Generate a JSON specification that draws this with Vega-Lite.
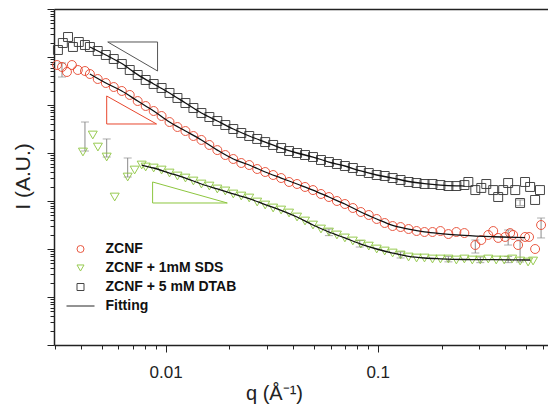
{
  "$schema": "https://vega.github.io/schema/vega-lite/v6.json",
  "width": 494,
  "height": 336,
  "autosize": {"type": "none"},
  "padding": {"left": 54, "top": 9, "right": 0, "bottom": 59},
  "background": "white",
  "config": {"view": {"stroke": null}, "font": "Liberation Sans"},
  "datasets": {
    "pts": [
      {"series": "ZCNF", "q": 0.00308, "I": 681}, {"series": "ZCNF", "q": 0.00325, "I": 619}, {"series": "ZCNF", "q": 0.00343, "I": 487}, {"series": "ZCNF", "q": 0.00362, "I": 681}, {"series": "ZCNF", "q": 0.00386, "I": 536}, {"series": "ZCNF", "q": 0.00417, "I": 511}, {"series": "ZCNF", "q": 0.0044, "I": 442}, {"series": "ZCNF", "q": 0.00479, "I": 348}, {"series": "ZCNF", "q": 0.00523, "I": 287}, {"series": "ZCNF", "q": 0.0057, "I": 237}, {"series": "ZCNF", "q": 0.00622, "I": 196}, {"series": "ZCNF", "q": 0.00678, "I": 162}, {"series": "ZCNF", "q": 0.00739, "I": 121}, {"series": "ZCNF", "q": 0.00806, "I": 95.3}, {"series": "ZCNF", "q": 0.00879, "I": 75}, {"series": "ZCNF", "q": 0.00958, "I": 59}, {"series": "ZCNF", "q": 0.01044, "I": 44.2}, {"series": "ZCNF", "q": 0.01138, "I": 34.8}, {"series": "ZCNF", "q": 0.01241, "I": 28.7}, {"series": "ZCNF", "q": 0.01353, "I": 22.6}, {"series": "ZCNF", "q": 0.01476, "I": 18.7}, {"series": "ZCNF", "q": 0.01609, "I": 14.7}, {"series": "ZCNF", "q": 0.01754, "I": 11.5}, {"series": "ZCNF", "q": 0.01913, "I": 9.08}, {"series": "ZCNF", "q": 0.02086, "I": 7.5}, {"series": "ZCNF", "q": 0.02275, "I": 6.19}, {"series": "ZCNF", "q": 0.0248, "I": 5.62}, {"series": "ZCNF", "q": 0.02704, "I": 4.64}, {"series": "ZCNF", "q": 0.02949, "I": 4.02}, {"series": "ZCNF", "q": 0.03215, "I": 3.48}, {"series": "ZCNF", "q": 0.03506, "I": 3.01}, {"series": "ZCNF", "q": 0.03822, "I": 2.49}, {"series": "ZCNF", "q": 0.04168, "I": 2.26}, {"series": "ZCNF", "q": 0.04544, "I": 1.96}, {"series": "ZCNF", "q": 0.04955, "I": 1.69}, {"series": "ZCNF", "q": 0.05403, "I": 1.4}, {"series": "ZCNF", "q": 0.05891, "I": 1.21}, {"series": "ZCNF", "q": 0.06423, "I": 1.0}, {"series": "ZCNF", "q": 0.07004, "I": 0.866}, {"series": "ZCNF", "q": 0.07637, "I": 0.715}, {"series": "ZCNF", "q": 0.08327, "I": 0.59}, {"series": "ZCNF", "q": 0.09079, "I": 0.511}, {"series": "ZCNF", "q": 0.09893, "I": 0.422}, {"series": "ZCNF", "q": 0.1079, "I": 0.348}, {"series": "ZCNF", "q": 0.1176, "I": 0.301}, {"series": "ZCNF", "q": 0.1282, "I": 0.287}, {"series": "ZCNF", "q": 0.1398, "I": 0.261}, {"series": "ZCNF", "q": 0.1525, "I": 0.237}, {"series": "ZCNF", "q": 0.1662, "I": 0.226}, {"series": "ZCNF", "q": 0.1813, "I": 0.226}, {"series": "ZCNF", "q": 0.1976, "I": 0.237}, {"series": "ZCNF", "q": 0.2154, "I": 0.205}, {"series": "ZCNF", "q": 0.2349, "I": 0.226}, {"series": "ZCNF", "q": 0.2562, "I": 0.215}, {"series": "ZCNF", "q": 0.2885, "I": 0.121}, {"series": "ZCNF", "q": 0.3078, "I": 0.154}, {"series": "ZCNF", "q": 0.332, "I": 0.196}, {"series": "ZCNF", "q": 0.3504, "I": 0.237}, {"series": "ZCNF", "q": 0.3698, "I": 0.17}, {"series": "ZCNF", "q": 0.399, "I": 0.178}, {"series": "ZCNF", "q": 0.421, "I": 0.215}, {"series": "ZCNF", "q": 0.435, "I": 0.196}, {"series": "ZCNF", "q": 0.459, "I": 0.121}, {"series": "ZCNF", "q": 0.495, "I": 0.178}, {"series": "ZCNF", "q": 0.517, "I": 0.178}, {"series": "ZCNF", "q": 0.552, "I": 0.1}, {"series": "ZCNF", "q": 0.589, "I": 0.316},
      {"series": "ZCNF + 1mM SDS", "q": 0.00408, "I": 10.5}, {"series": "ZCNF + 1mM SDS", "q": 0.00454, "I": 23.7}, {"series": "ZCNF + 1mM SDS", "q": 0.0048, "I": 13.3}, {"series": "ZCNF + 1mM SDS", "q": 0.00528, "I": 8.25}, {"series": "ZCNF + 1mM SDS", "q": 0.00576, "I": 1.21}, {"series": "ZCNF + 1mM SDS", "q": 0.00663, "I": 3.16}, {"series": "ZCNF + 1mM SDS", "q": 0.00715, "I": 4.42}, {"series": "ZCNF + 1mM SDS", "q": 0.00772, "I": 5.62}, {"series": "ZCNF + 1mM SDS", "q": 0.00806, "I": 5.11}, {"series": "ZCNF + 1mM SDS", "q": 0.00879, "I": 4.87}, {"series": "ZCNF + 1mM SDS", "q": 0.00958, "I": 4.42}, {"series": "ZCNF + 1mM SDS", "q": 0.01044, "I": 3.83}, {"series": "ZCNF + 1mM SDS", "q": 0.01138, "I": 3.32}, {"series": "ZCNF + 1mM SDS", "q": 0.01241, "I": 3.01}, {"series": "ZCNF + 1mM SDS", "q": 0.01353, "I": 2.61}, {"series": "ZCNF + 1mM SDS", "q": 0.01476, "I": 2.26}, {"series": "ZCNF + 1mM SDS", "q": 0.01609, "I": 2.05}, {"series": "ZCNF + 1mM SDS", "q": 0.01754, "I": 1.78}, {"series": "ZCNF + 1mM SDS", "q": 0.01913, "I": 1.62}, {"series": "ZCNF + 1mM SDS", "q": 0.02086, "I": 1.4}, {"series": "ZCNF + 1mM SDS", "q": 0.02275, "I": 1.27}, {"series": "ZCNF + 1mM SDS", "q": 0.0248, "I": 1.155}, {"series": "ZCNF + 1mM SDS", "q": 0.02704, "I": 0.953}, {"series": "ZCNF + 1mM SDS", "q": 0.02949, "I": 0.825}, {"series": "ZCNF + 1mM SDS", "q": 0.03215, "I": 0.715}, {"series": "ZCNF + 1mM SDS", "q": 0.03506, "I": 0.649}, {"series": "ZCNF + 1mM SDS", "q": 0.03822, "I": 0.562}, {"series": "ZCNF + 1mM SDS", "q": 0.04168, "I": 0.464}, {"series": "ZCNF + 1mM SDS", "q": 0.04544, "I": 0.383}, {"series": "ZCNF + 1mM SDS", "q": 0.04955, "I": 0.316}, {"series": "ZCNF + 1mM SDS", "q": 0.05403, "I": 0.261}, {"series": "ZCNF + 1mM SDS", "q": 0.05891, "I": 0.226}, {"series": "ZCNF + 1mM SDS", "q": 0.06423, "I": 0.196}, {"series": "ZCNF + 1mM SDS", "q": 0.07004, "I": 0.17}, {"series": "ZCNF + 1mM SDS", "q": 0.07637, "I": 0.147}, {"series": "ZCNF + 1mM SDS", "q": 0.08327, "I": 0.127}, {"series": "ZCNF + 1mM SDS", "q": 0.09079, "I": 0.115}, {"series": "ZCNF + 1mM SDS", "q": 0.09893, "I": 0.1}, {"series": "ZCNF + 1mM SDS", "q": 0.1079, "I": 0.0908}, {"series": "ZCNF + 1mM SDS", "q": 0.1176, "I": 0.0825}, {"series": "ZCNF + 1mM SDS", "q": 0.1282, "I": 0.075}, {"series": "ZCNF + 1mM SDS", "q": 0.1398, "I": 0.0681}, {"series": "ZCNF + 1mM SDS", "q": 0.1525, "I": 0.0649}, {"series": "ZCNF + 1mM SDS", "q": 0.1662, "I": 0.0649}, {"series": "ZCNF + 1mM SDS", "q": 0.1813, "I": 0.0619}, {"series": "ZCNF + 1mM SDS", "q": 0.1976, "I": 0.0619}, {"series": "ZCNF + 1mM SDS", "q": 0.2154, "I": 0.0619}, {"series": "ZCNF + 1mM SDS", "q": 0.2349, "I": 0.059}, {"series": "ZCNF + 1mM SDS", "q": 0.2562, "I": 0.0619}, {"series": "ZCNF + 1mM SDS", "q": 0.2793, "I": 0.059}, {"series": "ZCNF + 1mM SDS", "q": 0.3045, "I": 0.059}, {"series": "ZCNF + 1mM SDS", "q": 0.3321, "I": 0.0619}, {"series": "ZCNF + 1mM SDS", "q": 0.3621, "I": 0.059}, {"series": "ZCNF + 1mM SDS", "q": 0.3948, "I": 0.059}, {"series": "ZCNF + 1mM SDS", "q": 0.4305, "I": 0.0619}, {"series": "ZCNF + 1mM SDS", "q": 0.4693, "I": 0.0562}, {"series": "ZCNF + 1mM SDS", "q": 0.5117, "I": 0.0536}, {"series": "ZCNF + 1mM SDS", "q": 0.54, "I": 0.0562},
      {"series": "ZCNF + 5 mM DTAB", "q": 0.00311, "I": 1399}, {"series": "ZCNF + 5 mM DTAB", "q": 0.00328, "I": 1957}, {"series": "ZCNF + 5 mM DTAB", "q": 0.00347, "I": 2610}, {"series": "ZCNF + 5 mM DTAB", "q": 0.00366, "I": 1616}, {"series": "ZCNF + 5 mM DTAB", "q": 0.0039, "I": 2054}, {"series": "ZCNF + 5 mM DTAB", "q": 0.00417, "I": 1778}, {"series": "ZCNF + 5 mM DTAB", "q": 0.0044, "I": 1616}, {"series": "ZCNF + 5 mM DTAB", "q": 0.00479, "I": 1334}, {"series": "ZCNF + 5 mM DTAB", "q": 0.00523, "I": 1101}, {"series": "ZCNF + 5 mM DTAB", "q": 0.0057, "I": 908}, {"series": "ZCNF + 5 mM DTAB", "q": 0.00622, "I": 715}, {"series": "ZCNF + 5 mM DTAB", "q": 0.00678, "I": 536}, {"series": "ZCNF + 5 mM DTAB", "q": 0.00739, "I": 422}, {"series": "ZCNF + 5 mM DTAB", "q": 0.00806, "I": 332}, {"series": "ZCNF + 5 mM DTAB", "q": 0.00879, "I": 274}, {"series": "ZCNF + 5 mM DTAB", "q": 0.00958, "I": 226}, {"series": "ZCNF + 5 mM DTAB", "q": 0.01044, "I": 178}, {"series": "ZCNF + 5 mM DTAB", "q": 0.01138, "I": 140}, {"series": "ZCNF + 5 mM DTAB", "q": 0.01241, "I": 110}, {"series": "ZCNF + 5 mM DTAB", "q": 0.01353, "I": 86.6}, {"series": "ZCNF + 5 mM DTAB", "q": 0.01476, "I": 68.1}, {"series": "ZCNF + 5 mM DTAB", "q": 0.01609, "I": 56.2}, {"series": "ZCNF + 5 mM DTAB", "q": 0.01754, "I": 46.4}, {"series": "ZCNF + 5 mM DTAB", "q": 0.01913, "I": 38.3}, {"series": "ZCNF + 5 mM DTAB", "q": 0.02086, "I": 31.6}, {"series": "ZCNF + 5 mM DTAB", "q": 0.02275, "I": 26.1}, {"series": "ZCNF + 5 mM DTAB", "q": 0.0248, "I": 22.6}, {"series": "ZCNF + 5 mM DTAB", "q": 0.02704, "I": 19.6}, {"series": "ZCNF + 5 mM DTAB", "q": 0.02949, "I": 16.9}, {"series": "ZCNF + 5 mM DTAB", "q": 0.03215, "I": 14.7}, {"series": "ZCNF + 5 mM DTAB", "q": 0.03506, "I": 12.7}, {"series": "ZCNF + 5 mM DTAB", "q": 0.03822, "I": 11.0}, {"series": "ZCNF + 5 mM DTAB", "q": 0.04168, "I": 10.0}, {"series": "ZCNF + 5 mM DTAB", "q": 0.04544, "I": 9.08}, {"series": "ZCNF + 5 mM DTAB", "q": 0.04955, "I": 8.25}, {"series": "ZCNF + 5 mM DTAB", "q": 0.05403, "I": 7.15}, {"series": "ZCNF + 5 mM DTAB", "q": 0.05891, "I": 6.49}, {"series": "ZCNF + 5 mM DTAB", "q": 0.06423, "I": 5.9}, {"series": "ZCNF + 5 mM DTAB", "q": 0.07004, "I": 5.36}, {"series": "ZCNF + 5 mM DTAB", "q": 0.07637, "I": 4.87}, {"series": "ZCNF + 5 mM DTAB", "q": 0.08327, "I": 4.22}, {"series": "ZCNF + 5 mM DTAB", "q": 0.09079, "I": 3.83}, {"series": "ZCNF + 5 mM DTAB", "q": 0.09893, "I": 3.48}, {"series": "ZCNF + 5 mM DTAB", "q": 0.1079, "I": 3.32}, {"series": "ZCNF + 5 mM DTAB", "q": 0.1176, "I": 3.01}, {"series": "ZCNF + 5 mM DTAB", "q": 0.1282, "I": 2.74}, {"series": "ZCNF + 5 mM DTAB", "q": 0.1398, "I": 2.49}, {"series": "ZCNF + 5 mM DTAB", "q": 0.1525, "I": 2.37}, {"series": "ZCNF + 5 mM DTAB", "q": 0.1662, "I": 2.26}, {"series": "ZCNF + 5 mM DTAB", "q": 0.1813, "I": 2.26}, {"series": "ZCNF + 5 mM DTAB", "q": 0.1976, "I": 2.15}, {"series": "ZCNF + 5 mM DTAB", "q": 0.2154, "I": 2.05}, {"series": "ZCNF + 5 mM DTAB", "q": 0.2349, "I": 2.05}, {"series": "ZCNF + 5 mM DTAB", "q": 0.2562, "I": 2.15}, {"series": "ZCNF + 5 mM DTAB", "q": 0.2675, "I": 2.49}, {"series": "ZCNF + 5 mM DTAB", "q": 0.2885, "I": 1.69}, {"series": "ZCNF + 5 mM DTAB", "q": 0.3078, "I": 1.87}, {"series": "ZCNF + 5 mM DTAB", "q": 0.325, "I": 2.26}, {"series": "ZCNF + 5 mM DTAB", "q": 0.3504, "I": 1.69}, {"series": "ZCNF + 5 mM DTAB", "q": 0.3698, "I": 1.21}, {"series": "ZCNF + 5 mM DTAB", "q": 0.3904, "I": 1.69}, {"series": "ZCNF + 5 mM DTAB", "q": 0.412, "I": 2.37}, {"series": "ZCNF + 5 mM DTAB", "q": 0.445, "I": 1.69}, {"series": "ZCNF + 5 mM DTAB", "q": 0.469, "I": 0.909}, {"series": "ZCNF + 5 mM DTAB", "q": 0.495, "I": 2.49}, {"series": "ZCNF + 5 mM DTAB", "q": 0.523, "I": 1.96}, {"series": "ZCNF + 5 mM DTAB", "q": 0.552, "I": 1.05}, {"series": "ZCNF + 5 mM DTAB", "q": 0.582, "I": 1.69}
    ],
    "fits": [
      {"series": "Fitting", "group": "D", "q": 0.0044, "I": 1616}, {"series": "Fitting", "group": "D", "q": 0.00523, "I": 1101}, {"series": "Fitting", "group": "D", "q": 0.00622, "I": 730}, {"series": "Fitting", "group": "D", "q": 0.00739, "I": 430}, {"series": "Fitting", "group": "D", "q": 0.00879, "I": 274}, {"series": "Fitting", "group": "D", "q": 0.01044, "I": 178}, {"series": "Fitting", "group": "D", "q": 0.01241, "I": 110}, {"series": "Fitting", "group": "D", "q": 0.01476, "I": 68.1}, {"series": "Fitting", "group": "D", "q": 0.01754, "I": 46.4}, {"series": "Fitting", "group": "D", "q": 0.02086, "I": 31.6}, {"series": "Fitting", "group": "D", "q": 0.0248, "I": 22.6}, {"series": "Fitting", "group": "D", "q": 0.02949, "I": 16.9}, {"series": "Fitting", "group": "D", "q": 0.03506, "I": 12.7}, {"series": "Fitting", "group": "D", "q": 0.04168, "I": 10.0}, {"series": "Fitting", "group": "D", "q": 0.04955, "I": 8.25}, {"series": "Fitting", "group": "D", "q": 0.05891, "I": 6.49}, {"series": "Fitting", "group": "D", "q": 0.07004, "I": 5.36}, {"series": "Fitting", "group": "D", "q": 0.08327, "I": 4.22}, {"series": "Fitting", "group": "D", "q": 0.09893, "I": 3.48}, {"series": "Fitting", "group": "D", "q": 0.1176, "I": 3.01}, {"series": "Fitting", "group": "D", "q": 0.1398, "I": 2.55}, {"series": "Fitting", "group": "D", "q": 0.1662, "I": 2.3}, {"series": "Fitting", "group": "D", "q": 0.1976, "I": 2.15}, {"series": "Fitting", "group": "D", "q": 0.2349, "I": 2.07}, {"series": "Fitting", "group": "D", "q": 0.2562, "I": 2.05},
      {"series": "Fitting", "group": "Z", "q": 0.0044, "I": 442}, {"series": "Fitting", "group": "Z", "q": 0.00523, "I": 287}, {"series": "Fitting", "group": "Z", "q": 0.00622, "I": 196}, {"series": "Fitting", "group": "Z", "q": 0.00739, "I": 121}, {"series": "Fitting", "group": "Z", "q": 0.00879, "I": 75}, {"series": "Fitting", "group": "Z", "q": 0.01044, "I": 44.2}, {"series": "Fitting", "group": "Z", "q": 0.01241, "I": 28.7}, {"series": "Fitting", "group": "Z", "q": 0.01476, "I": 18.7}, {"series": "Fitting", "group": "Z", "q": 0.01754, "I": 11.5}, {"series": "Fitting", "group": "Z", "q": 0.02086, "I": 7.5}, {"series": "Fitting", "group": "Z", "q": 0.0248, "I": 5.62}, {"series": "Fitting", "group": "Z", "q": 0.02949, "I": 4.02}, {"series": "Fitting", "group": "Z", "q": 0.03506, "I": 3.01}, {"series": "Fitting", "group": "Z", "q": 0.04168, "I": 2.26}, {"series": "Fitting", "group": "Z", "q": 0.04955, "I": 1.69}, {"series": "Fitting", "group": "Z", "q": 0.05891, "I": 1.21}, {"series": "Fitting", "group": "Z", "q": 0.07004, "I": 0.866}, {"series": "Fitting", "group": "Z", "q": 0.08327, "I": 0.59}, {"series": "Fitting", "group": "Z", "q": 0.09893, "I": 0.422}, {"series": "Fitting", "group": "Z", "q": 0.1176, "I": 0.31}, {"series": "Fitting", "group": "Z", "q": 0.1398, "I": 0.26}, {"series": "Fitting", "group": "Z", "q": 0.1662, "I": 0.228}, {"series": "Fitting", "group": "Z", "q": 0.1976, "I": 0.21}, {"series": "Fitting", "group": "Z", "q": 0.2562, "I": 0.192}, {"series": "Fitting", "group": "Z", "q": 0.35, "I": 0.18}, {"series": "Fitting", "group": "Z", "q": 0.495, "I": 0.172},
      {"series": "Fitting", "group": "S", "q": 0.00772, "I": 5.62}, {"series": "Fitting", "group": "S", "q": 0.00879, "I": 4.87}, {"series": "Fitting", "group": "S", "q": 0.01044, "I": 3.83}, {"series": "Fitting", "group": "S", "q": 0.01241, "I": 3.01}, {"series": "Fitting", "group": "S", "q": 0.01476, "I": 2.26}, {"series": "Fitting", "group": "S", "q": 0.01754, "I": 1.78}, {"series": "Fitting", "group": "S", "q": 0.02086, "I": 1.4}, {"series": "Fitting", "group": "S", "q": 0.0248, "I": 1.12}, {"series": "Fitting", "group": "S", "q": 0.02949, "I": 0.84}, {"series": "Fitting", "group": "S", "q": 0.03506, "I": 0.64}, {"series": "Fitting", "group": "S", "q": 0.04168, "I": 0.464}, {"series": "Fitting", "group": "S", "q": 0.04955, "I": 0.316}, {"series": "Fitting", "group": "S", "q": 0.05891, "I": 0.226}, {"series": "Fitting", "group": "S", "q": 0.07004, "I": 0.17}, {"series": "Fitting", "group": "S", "q": 0.08327, "I": 0.127}, {"series": "Fitting", "group": "S", "q": 0.09893, "I": 0.1}, {"series": "Fitting", "group": "S", "q": 0.1176, "I": 0.0825}, {"series": "Fitting", "group": "S", "q": 0.1398, "I": 0.0705}, {"series": "Fitting", "group": "S", "q": 0.1662, "I": 0.065}, {"series": "Fitting", "group": "S", "q": 0.1976, "I": 0.0625}, {"series": "Fitting", "group": "S", "q": 0.2562, "I": 0.0605}, {"series": "Fitting", "group": "S", "q": 0.35, "I": 0.06}, {"series": "Fitting", "group": "S", "q": 0.523, "I": 0.059}
    ],
    "tri": [
      {"tri": "B", "k": 1, "q": 0.00534, "I": 2054}, {"tri": "B", "k": 2, "q": 0.00917, "I": 2054}, {"tri": "B", "k": 3, "q": 0.00917, "I": 511}, {"tri": "B", "k": 4, "q": 0.00534, "I": 2054},
      {"tri": "R", "k": 1, "q": 0.00528, "I": 154}, {"tri": "R", "k": 2, "q": 0.00528, "I": 40.2}, {"tri": "R", "k": 3, "q": 0.00907, "I": 40.2}, {"tri": "R", "k": 4, "q": 0.00528, "I": 154},
      {"tri": "G", "k": 1, "q": 0.00869, "I": 2.49}, {"tri": "G", "k": 2, "q": 0.00869, "I": 0.909}, {"tri": "G", "k": 3, "q": 0.01955, "I": 0.909}, {"tri": "G", "k": 4, "q": 0.00869, "I": 2.49}
    ],
    "err": [
      {"q": 0.00417, "lo": 11.0, "hi": 44.2}, {"q": 0.00528, "lo": 8.25, "hi": 19.6}, {"q": 0.00663, "lo": 3.16, "hi": 7.87},
      {"q": 0.00325, "lo": 383, "hi": 750}, {"q": 0.589, "lo": 0.17, "hi": 0.442}, {"q": 0.412, "lo": 0.121, "hi": 0.249}, {"q": 0.469, "lo": 0.0536, "hi": 0.154}, {"q": 0.2885, "lo": 0.0825, "hi": 0.154},
      {"q": 0.0589, "lo": 0.19, "hi": 0.26}, {"q": 0.0823, "lo": 0.11, "hi": 0.15}, {"q": 0.1282, "lo": 0.065, "hi": 0.087}, {"q": 0.2154, "lo": 0.054, "hi": 0.07}, {"q": 0.3045, "lo": 0.052, "hi": 0.068}, {"q": 0.412, "lo": 0.052, "hi": 0.07}, {"q": 0.469, "lo": 0.8, "hi": 1.05}
    ]
  },
  "layer": [
    {
      "data": {"name": "err"},
      "mark": {"type": "errorbar", "color": "#8a8a8a", "thickness": 1, "ticks": {"color": "#8a8a8a", "size": 8}},
      "encoding": {
        "x": {"field": "q", "type": "quantitative", "scale": {"type": "log", "domain": [0.00298, 0.635]}, "axis": null},
        "y": {"field": "lo", "type": "quantitative", "title": "I (A.U.)", "scale": {"type": "log", "domain": [0.001, 10000]}},
        "y2": {"field": "hi"}
      }
    },
    {
      "data": {"name": "tri"},
      "transform": [{"filter": "datum.tri == 'B'"}],
      "mark": {"type": "line", "color": "#555555", "strokeWidth": 1},
      "encoding": {
        "x": {"field": "q", "type": "quantitative", "scale": {"type": "log", "domain": [0.00298, 0.635]}, "axis": null},
        "y": {"field": "I", "type": "quantitative", "title": "I (A.U.)", "scale": {"type": "log", "domain": [0.001, 10000]}},
        "order": {"field": "k"}
      }
    },
    {
      "data": {"name": "tri"},
      "transform": [{"filter": "datum.tri == 'R'"}],
      "mark": {"type": "line", "color": "#e8472e", "strokeWidth": 1},
      "encoding": {
        "x": {"field": "q", "type": "quantitative", "scale": {"type": "log", "domain": [0.00298, 0.635]}, "axis": null},
        "y": {"field": "I", "type": "quantitative", "title": "I (A.U.)", "scale": {"type": "log", "domain": [0.001, 10000]}},
        "order": {"field": "k"}
      }
    },
    {
      "data": {"name": "tri"},
      "transform": [{"filter": "datum.tri == 'G'"}],
      "mark": {"type": "line", "color": "#8dc63f", "strokeWidth": 1},
      "encoding": {
        "x": {"field": "q", "type": "quantitative", "scale": {"type": "log", "domain": [0.00298, 0.635]}, "axis": null},
        "y": {"field": "I", "type": "quantitative", "title": "I (A.U.)", "scale": {"type": "log", "domain": [0.001, 10000]}},
        "order": {"field": "k"}
      }
    },
    {
      "data": {"name": "pts"},
      "mark": {"type": "point", "filled": false, "size": 80, "strokeWidth": 1, "opacity": 0.9},
      "encoding": {
        "x": {
          "field": "q", "type": "quantitative",
          "scale": {"type": "log", "domain": [0.00298, 0.635]},
          "axis": {
            "orient": "bottom",
            "values": [0.003, 0.004, 0.005, 0.006, 0.007, 0.008, 0.009, 0.01, 0.02, 0.03, 0.04, 0.05, 0.06, 0.07, 0.08, 0.09, 0.1, 0.2, 0.3, 0.4, 0.5, 0.6],
            "labelExpr": "datum.value == 0.01 ? '0.01' : (datum.value == 0.1 ? '0.1' : '')",
            "tickSize": {"condition": {"test": "datum.value == 0.01 || datum.value == 0.1", "value": 7}, "value": 4},
            "tickColor": "#222222", "tickWidth": 1,
            "domainColor": "#222222", "domainWidth": 1.5,
            "grid": false,
            "labelFont": "Liberation Sans", "labelFontSize": 17, "labelColor": "#222222", "labelPadding": 12,
            "title": "q (Å⁻¹)", "titleFont": "Liberation Sans", "titleFontSize": 20, "titleFontWeight": "normal", "titleColor": "#222222",
            "titleX": 220, "titleY": 54, "titleBaseline": "alphabetic", "titleAnchor": "middle"
          }
        },
        "y": {
          "field": "I", "type": "quantitative", "title": "I (A.U.)",
          "scale": {"type": "log", "domain": [0.001, 10000]},
          "axis": {
            "values": [0.001, 0.002, 0.003, 0.004, 0.005, 0.006, 0.007, 0.008, 0.009, 0.01, 0.02, 0.03, 0.04, 0.05, 0.06, 0.07, 0.08, 0.09, 0.1, 0.2, 0.3, 0.4, 0.5, 0.6, 0.7, 0.8, 0.9, 1, 2, 3, 4, 5, 6, 7, 8, 9, 10, 20, 30, 40, 50, 60, 70, 80, 90, 100, 200, 300, 400, 500, 600, 700, 800, 900, 1000, 2000, 3000, 4000, 5000, 6000, 7000, 8000, 9000, 10000],
            "labels": false,
            "tickSize": {"condition": {"test": "abs(log(datum.value)/LN10 - round(log(datum.value)/LN10)) < 0.01", "value": 7}, "value": 4},
            "tickColor": "#222222", "tickWidth": 1,
            "domainColor": "#222222", "domainWidth": 1.5,
            "grid": false,
            "title": "I (A.U.)", "titleFont": "Liberation Sans", "titleFontSize": 21, "titleFontWeight": "normal", "titleColor": "#222222",
            "titleX": -21, "titleY": 167, "titleAngle": 270, "titleBaseline": "bottom", "titleAlign": "center"
          }
        },
        "color": {
          "field": "series", "type": "nominal",
          "scale": {"domain": ["ZCNF", "ZCNF + 1mM SDS", "ZCNF + 5 mM DTAB", "Fitting"], "range": ["#e8472e", "#8dc63f", "#333333", "#111111"]},
          "legend": {"orient": "none", "legendX": 19.5, "legendY": 233, "title": null, "padding": 0, "symbolSize": 49, "symbolStrokeWidth": 1, "labelOffset": 18, "rowPadding": 5, "labelFont": "Liberation Sans", "labelFontSize": 14, "labelFontWeight": "bold", "labelColor": "#111111", "labelLimit": 300}
        },
        "shape": {
          "field": "series", "type": "nominal",
          "scale": {"domain": ["ZCNF", "ZCNF + 1mM SDS", "ZCNF + 5 mM DTAB", "Fitting"], "range": ["circle", "triangle-down", "square", "M-4,0H4"]},
          "legend": {"orient": "none", "legendX": 19.5, "legendY": 233, "title": null, "padding": 0, "symbolSize": 49, "symbolStrokeWidth": 1, "labelOffset": 18, "rowPadding": 5, "labelFont": "Liberation Sans", "labelFontSize": 14, "labelFontWeight": "bold", "labelColor": "#111111", "labelLimit": 300}
        }
      }
    },
    {
      "data": {"name": "fits"},
      "mark": {"type": "line", "strokeWidth": 1.3, "interpolate": "monotone"},
      "encoding": {
        "x": {"field": "q", "type": "quantitative", "scale": {"type": "log", "domain": [0.00298, 0.635]}, "axis": {"orient": "top", "ticks": false, "labels": false, "title": null, "grid": false, "domainColor": "#222222", "domainWidth": 1.5}},
        "y": {"field": "I", "type": "quantitative", "title": "I (A.U.)", "scale": {"type": "log", "domain": [0.001, 10000]}},
        "color": {
          "field": "series", "type": "nominal",
          "scale": {"domain": ["ZCNF", "ZCNF + 1mM SDS", "ZCNF + 5 mM DTAB", "Fitting"], "range": ["#e8472e", "#8dc63f", "#333333", "#111111"]}
        },
        "detail": {"field": "group"}
      }
    }
  ],
  "resolve": {"axis": {"x": "independent"}}
}
